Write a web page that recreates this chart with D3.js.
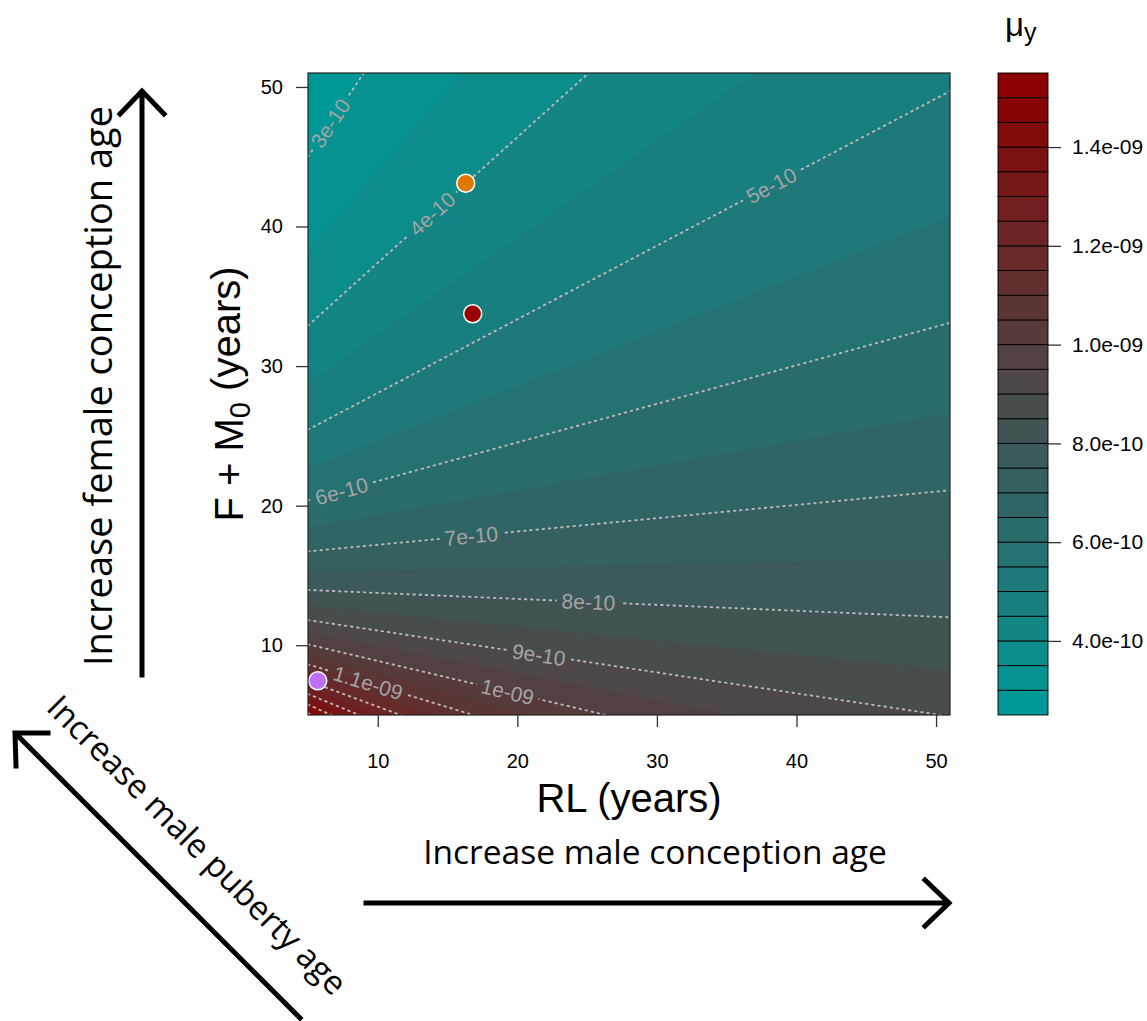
<!DOCTYPE html>
<html>
<head>
<meta charset="utf-8">
<script src="https://cdn.jsdelivr.net/npm/d3@7"></script>
<style>
body { margin: 0; background: #fff; }
text { font-family: "Liberation Sans", Arial, sans-serif; }
.note { font-family: "Open Sans", sans-serif; }
</style>
</head>
<body>
<svg width="1147" height="1021"></svg>
<script>
// band edges of mu_y, and the F + M0 value where each edge meets RL = 5 (left) and RL = 51 (right)
var edgeLevels = [3.0e-10, 3.5e-10, 4.0e-10, 4.5e-10, 5.0e-10, 5.5e-10, 6.0e-10, 6.5e-10, 7.0e-10,
    7.5e-10, 8.0e-10, 8.5e-10, 9.0e-10, 9.5e-10, 1.0e-09, 1.05e-09, 1.1e-09, 1.15e-09, 1.2e-09,
    1.25e-09, 1.3e-09, 1.35e-09, 1.4e-09, 1.45e-09, 1.5e-09];
var edgeLeft = [45.0, 38.15, 32.9, 28.77, 25.44, 22.68, 20.38, 18.41, 16.72, 15.25, 13.96, 12.81,
    11.80, 10.89, 10.06, 9.31, 8.63, 8.0, 7.44, 6.91, 6.51, 6.11, 5.75, 5.43, 5.14];
var edgeRight = [114.1, 91.5, 74.3, 60.7, 49.7, 40.7, 33.1, 26.6, 21.1, 16.2, 12.0, 8.2, 4.9, 1.9,
    -0.85, -3.3, -5.5, -7.6, -9.5, -11.2, -12.5, -13.8, -15.0, -16.1, -17.0];
var bandLow = 2.5e-10, bandHigh = 1.55e-09, bandStep = 0.5e-10;

// dotted contour lines (every other edge) with their labels and label position (RL)
var lineLevels = [3e-10, 4e-10, 5e-10, 6e-10, 7e-10, 8e-10, 9e-10, 1e-09, 1.1e-09, 1.2e-09, 1.3e-09, 1.4e-09, 1.5e-09];
var lineLabels = ["3e-10", "4e-10", "5e-10", "6e-10", "7e-10", "8e-10", "9e-10", "1e-09", "1.1e-09", "", "", "", ""];
var labelRL = [6.6, 13.9, 38.2, 7.4, 16.7, 25.1, 21.55, 19.3, 9.3, null, null, null, null];

// species points
var pointRL = [16.3, 16.8, 5.7];
var pointFM = [43.1, 33.75, 7.45];
var pointColor = ["#e07800", "#990000", "#c070f8"];

var xTicks = [10, 20, 30, 40, 50];
var yTicks = [10, 20, 30, 40, 50];
var keyTicks = [4e-10, 6e-10, 8e-10, 1e-09, 1.2e-09, 1.4e-09];
var keyTickLabels = ["4.0e-10", "6.0e-10", "8.0e-10", "1.0e-09", "1.2e-09", "1.4e-09"];

var svg = d3.select("svg");
var plot = {left: 308, right: 950, top: 73, bottom: 715};

var x = d3.scaleLinear().domain([5, 51]).range([plot.left, plot.right]);
var y = d3.scaleLinear().domain([5, 51]).range([plot.bottom, plot.top]);
var nBands = Math.round((bandHigh - bandLow) / bandStep);
var bandColor = d3.scaleLinear().domain([0, (nBands - 1) / 2, nBands - 1])
    .range(["#009896", "#4a4a4a", "#8b0000"]);

var defs = svg.append("defs");
defs.append("clipPath").attr("id", "plotclip")
    .append("rect")
    .attr("x", plot.left).attr("y", plot.top)
    .attr("width", plot.right - plot.left).attr("height", plot.bottom - plot.top);

// filled bands: stack the region below each edge
var bands = svg.append("g").attr("clip-path", "url(#plotclip)");
bands.append("rect")
    .attr("x", plot.left).attr("y", plot.top)
    .attr("width", plot.right - plot.left).attr("height", plot.bottom - plot.top)
    .attr("fill", bandColor(0));
bands.selectAll("path")
    .data(edgeLevels)
    .enter().append("path")
    .attr("d", function(d, i) {
        return d3.line()([[x(5), y(edgeLeft[i])], [x(51), y(edgeRight[i])], [x(51), y(-40)], [x(5), y(-40)]]) + "Z";
    })
    .attr("fill", function(d) { return bandColor(Math.round((d - bandLow) / bandStep)); })
    .attr("stroke", function(d) { return bandColor(Math.round((d - bandLow) / bandStep)); })
    .attr("stroke-width", 0.5);

// contour lines
var lines = lineLevels.map(function(lv) {
    var i = edgeLevels.findIndex(function(e) { return Math.abs(e - lv) < 1e-12; });
    return {x1: x(5), y1: y(edgeLeft[i]), x2: x(51), y2: y(edgeRight[i])};
});

var mask = defs.append("mask").attr("id", "gaps").attr("maskUnits", "userSpaceOnUse")
    .attr("x", 0).attr("y", 0).attr("width", 1147).attr("height", 1021);
mask.append("rect").attr("width", 1147).attr("height", 1021).attr("fill", "#fff");

svg.append("g").attr("clip-path", "url(#plotclip)")
    .append("g").attr("mask", "url(#gaps)")
    .selectAll("line")
    .data(lines)
    .enter().append("line")
    .attr("x1", function(d) { return d.x1; })
    .attr("y1", function(d) { return d.y1; })
    .attr("x2", function(d) { return d.x2; })
    .attr("y2", function(d) { return d.y2; })
    .attr("stroke", "#b8b8b8")
    .attr("stroke-width", 1.9)
    .attr("stroke-dasharray", "1.6,4.6")
    .attr("stroke-linecap", "round");

var labelG = svg.append("g").attr("clip-path", "url(#plotclip)");
lines.forEach(function(l, i) {
    if (!lineLabels[i]) return;
    var t = (x(labelRL[i]) - l.x1) / (l.x2 - l.x1);
    var px = l.x1 + t * (l.x2 - l.x1), py = l.y1 + t * (l.y2 - l.y1);
    var ang = Math.atan2(l.y2 - l.y1, l.x2 - l.x1) * 180 / Math.PI;
    var txt = labelG.append("text")
        .attr("transform", "translate(" + px + "," + py + ") rotate(" + ang + ")")
        .attr("text-anchor", "middle")
        .attr("dy", "0.36em")
        .style("font-size", "21px")
        .style("fill", "#a4a4a4")
        .text(lineLabels[i]);
    var w = txt.node().getComputedTextLength() + 10;
    mask.append("rect")
        .attr("transform", "translate(" + px + "," + py + ") rotate(" + ang + ")")
        .attr("x", -w / 2).attr("y", -11).attr("width", w).attr("height", 22)
        .attr("fill", "#000");
});

// points
svg.selectAll("circle.sp")
    .data(pointRL)
    .enter().append("circle")
    .attr("class", "sp")
    .attr("cx", function(d) { return x(d); })
    .attr("cy", function(d, i) { return y(pointFM[i]); })
    .attr("r", 9)
    .attr("fill", function(d, i) { return pointColor[i]; })
    .attr("stroke", "#fff")
    .attr("stroke-width", 1.5);

// box
svg.append("rect")
    .attr("x", plot.left).attr("y", plot.top)
    .attr("width", plot.right - plot.left).attr("height", plot.bottom - plot.top)
    .attr("fill", "none").attr("stroke", "#222").attr("stroke-width", 1.2);

// axes
var xAxis = svg.append("g")
    .attr("transform", "translate(0," + plot.bottom + ")")
    .call(d3.axisBottom(x).tickValues(xTicks).tickSize(12).tickPadding(27));
var yAxis = svg.append("g")
    .attr("transform", "translate(" + plot.left + ",0)")
    .call(d3.axisLeft(y).tickValues(yTicks).tickSize(12).tickPadding(13));
[xAxis, yAxis].forEach(function(a) {
    a.select(".domain").remove();
    a.selectAll("line").attr("stroke", "#333").attr("stroke-width", 1.3);
    a.selectAll("text").style("font-size", "20px").style("font-family", "Liberation Sans, Arial, sans-serif").attr("fill", "#000");
});

svg.append("text")
    .attr("x", (plot.left + plot.right) / 2).attr("y", 812)
    .attr("text-anchor", "middle")
    .style("font-size", "40px")
    .text("RL (years)");

var yt = svg.append("text")
    .attr("transform", "translate(243," + ((plot.top + plot.bottom) / 2) + ") rotate(-90)")
    .attr("text-anchor", "middle")
    .style("font-size", "40px");
yt.append("tspan").text("F + M");
yt.append("tspan").attr("dy", "0.25em").style("font-size", "29px").text("0");
yt.append("tspan").attr("dy", "-0.25em").text(" (years)");

// colour key
var key = {left: 998, right: 1048};
var c = d3.scaleLinear().domain([bandLow, bandHigh]).range([plot.bottom, plot.top]);
svg.append("g").selectAll("rect")
    .data(d3.range(nBands))
    .enter().append("rect")
    .attr("x", key.left)
    .attr("y", function(i) { return c(bandLow + (i + 1) * bandStep); })
    .attr("width", key.right - key.left)
    .attr("height", function(i) { return c(bandLow + i * bandStep) - c(bandLow + (i + 1) * bandStep); })
    .attr("fill", function(i) { return bandColor(i); })
    .attr("stroke", "#000")
    .attr("stroke-width", 0.9);

var keyAxis = svg.append("g")
    .attr("transform", "translate(" + key.right + ",0)")
    .call(d3.axisRight(c).tickValues(keyTicks).tickSize(13).tickPadding(11)
        .tickFormat(function(d, i) { return keyTickLabels[i]; }));
keyAxis.select(".domain").remove();
keyAxis.selectAll("line").attr("stroke", "#333").attr("stroke-width", 1.3);
keyAxis.selectAll("text").style("font-size", "21px").style("font-family", "Liberation Sans, Arial, sans-serif").attr("fill", "#000");

var mt = svg.append("text")
    .attr("x", 1005).attr("y", 36)
    .style("font-size", "33px");
mt.append("tspan").text("\u03bc");
mt.append("tspan").attr("dy", "0.2em").style("font-size", "25px").text("y");

// annotations
svg.append("text").attr("class", "note")
    .attr("transform", "translate(112,386) rotate(-90)")
    .attr("text-anchor", "middle")
    .style("font-size", "38px")
    .text("Increase female conception age");

svg.append("text").attr("class", "note")
    .attr("x", 655).attr("y", 864)
    .attr("text-anchor", "middle")
    .style("font-size", "33.5px")
    .text("Increase male conception age");

svg.append("text").attr("class", "note")
    .attr("transform", "translate(197,845) rotate(45)")
    .attr("text-anchor", "middle")
    .attr("dy", "0.35em")
    .style("font-size", "33px")
    .text("Increase male puberty age");

var arrows = svg.append("g")
    .attr("fill", "none").attr("stroke", "#000")
    .attr("stroke-width", 5).attr("stroke-linecap", "square");
arrows.append("path").attr("d", "M142,675 L142,92 M120,114 L142,91 L164,114");
arrows.append("path").attr("d", "M366,903 L948,903 M925,880 L949,903 L925,926");
arrows.append("path").attr("d", "M300,1018 L16,734 M16,766 L15,733 L48,733");
</script>
</body>
</html>
